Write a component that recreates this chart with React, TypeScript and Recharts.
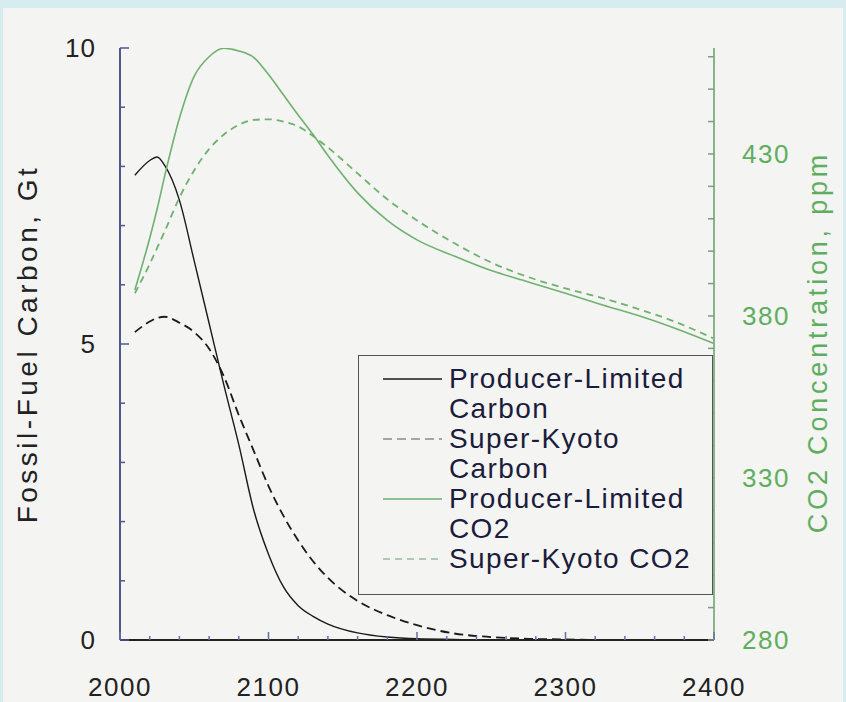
import React from 'react';
import { LineChart, Line, XAxis, YAxis, Legend } from 'recharts';

const years = [2010, 2020, 2025, 2030, 2040, 2050, 2060, 2070, 2080, 2090, 2100, 2110, 2120, 2130, 2140, 2160, 2180, 2200, 2225, 2250, 2275, 2300, 2325, 2350, 2375, 2400];
const producerCarbon = [7.85, 8.1, 8.16, 8.02, 7.43, 6.4, 5.35, 4.3, 3.3, 2.2, 1.45, 0.9, 0.58, 0.4, 0.27, 0.12, 0.05, 0.02, 0.01, 0, 0, 0, 0, 0, 0, 0];
const kyotoCarbon = [5.2, 5.38, 5.44, 5.46, 5.36, 5.2, 4.92, 4.45, 3.8, 3.2, 2.6, 2.1, 1.68, 1.33, 1.05, 0.66, 0.42, 0.25, 0.11, 0.05, 0.02, 0.01, 0, 0, 0, 0];
const producerCO2 = [388, 404, 413, 423, 441, 454, 460, 462.6, 461.8, 459.8, 454.5, 448.3, 442, 436, 429.5, 418, 409.5, 403.5, 398.5, 394, 390.5, 387, 383.4, 380, 376, 371.5];
const kyotoCO2 = [387, 396, 401, 406, 416.5, 425, 431.5, 436, 439, 440.5, 440.7, 440, 438.5, 435.5, 432, 424, 416, 409.5, 402.5, 396.5, 392, 388.5, 385.5, 382, 378, 373];

const seriesNames = ['Producer-Limited Carbon', 'Super-Kyoto Carbon', 'Producer-Limited CO2', 'Super-Kyoto CO2'];
const legendSampleColors = ['#1a1a1a', '#8a8a8a', '#6fb16f', '#9cb89c'];
const leftTitle = 'Fossil-Fuel Carbon, Gt';
const rightTitle = 'CO2 Concentration, ppm';

const xTicks = [2000, 2020, 2040, 2060, 2080, 2100, 2120, 2140, 2160, 2180, 2200, 2220, 2240, 2260, 2280, 2300, 2320, 2340, 2360, 2380, 2400];
const xLabelTicks = [2000, 2100, 2200, 2300, 2400];
const leftTicks = [0, 1, 2, 3, 4, 5, 6, 7, 8, 9, 10];
const leftLabelTicks = [0, 5, 10];
const rightTicks = [280, 290, 300, 310, 320, 330, 340, 350, 360, 370, 380, 390, 400, 410, 420, 430, 440, 450, 460];
const rightLabelTicks = [280, 330, 380, 430];

const data = years.map((year, i) => ({
  year,
  pc: producerCarbon[i],
  kc: kyotoCarbon[i],
  pco2: producerCO2[i],
  kco2: kyotoCO2[i],
}));

const FONT = '"Liberation Sans", Arial, sans-serif';
const GREEN = '#6fb16f';
const GREEN_TEXT = '#5fae5f';
const PAPER = '#f4f4f2';

const XTick = (props: any) => {
  const { x, y, payload } = props;
  const major = xLabelTicks.includes(payload.value);
  return (
    <g>
      <line x1={x} y1={y} x2={x} y2={y - (major ? 8 : 4)} stroke="#6670a0" strokeWidth={1.5} />
      {major && (
        <text x={x} y={y + 56} textAnchor="middle" fontFamily={FONT} fontSize={26} letterSpacing={1.5} fill="#222">
          {payload.value}
        </text>
      )}
    </g>
  );
};

const LeftTick = (props: any) => {
  const { x, y, payload } = props;
  const major = leftLabelTicks.includes(payload.value);
  return (
    <g>
      <line x1={x} y1={y} x2={x + (major ? 9 : 5)} y2={y} stroke="#4a5a8a" strokeWidth={1.5} />
      {major && (
        <text x={x - 24} y={y + 9} textAnchor="end" fontFamily={FONT} fontSize={26} letterSpacing={1} fill="#222">
          {payload.value}
        </text>
      )}
    </g>
  );
};

const RightTick = (props: any) => {
  const { x, y, payload } = props;
  const major = rightLabelTicks.includes(payload.value);
  return (
    <g>
      <line x1={x} y1={y} x2={x - 6} y2={y} stroke="#7aa07a" strokeWidth={1.5} />
      {major && (
        <text x={x + 28} y={y + 9} textAnchor="start" fontFamily={FONT} fontSize={26} letterSpacing={1.5} fill={GREEN_TEXT}>
          {payload.value}
        </text>
      )}
    </g>
  );
};

const LeftTitle = (props: any) => {
  const vb = props.viewBox;
  const cx = vb.x + 27;
  const cy = vb.y + vb.height / 2;
  return (
    <text x={cx} y={cy} dy="0.35em" transform={`rotate(-90, ${cx}, ${cy})`} textAnchor="middle" fontFamily={FONT} fontSize={28} letterSpacing={3.5} fill="#222">
      {leftTitle}
    </text>
  );
};

const RightTitle = (props: any) => {
  const vb = props.viewBox;
  const cx = vb.x + 104;
  const cy = vb.y + vb.height / 2 - 2;
  return (
    <text x={cx} y={cy} dy="0.35em" transform={`rotate(-90, ${cx}, ${cy})`} textAnchor="middle" fontFamily={FONT} fontSize={27} letterSpacing={3.8} fill={GREEN_TEXT}>
      {rightTitle}
    </text>
  );
};

const LegendBox = (props: any) => {
  const entries = [...(props.payload || [])].sort(
    (a: any, b: any) => seriesNames.indexOf(a.value) - seriesNames.indexOf(b.value)
  );
  return (
    <div
      style={{
        width: 355,
        height: 240,
        boxSizing: 'border-box',
        border: '1.5px solid #555',
        background: PAPER,
        padding: '8px 0 0 24px',
        fontFamily: FONT,
        fontSize: 28,
        letterSpacing: 1.4,
        color: '#1c1c3c',
      }}
    >
      {entries.map((entry: any, i: number) => (
        <div key={i} style={{ display: 'flex', alignItems: 'flex-start' }}>
          <svg width={66} height={30} style={{ flex: '0 0 auto' }}>
            <line
              x1={0}
              y1={15}
              x2={59}
              y2={15}
              stroke={legendSampleColors[seriesNames.indexOf(entry.value)] || entry.color}
              strokeWidth={1.5}
              strokeDasharray={entry.payload && entry.payload.strokeDasharray}
            />
          </svg>
          <div style={{ width: 260, lineHeight: '30px' }}>{entry.value}</div>
        </div>
      ))}
    </div>
  );
};

export default function App() {
  return (
    <div style={{ position: 'fixed', left: 0, top: 0, width: 846, height: 702, background: '#d6ecef' }}>
      <div style={{ position: 'absolute', left: 3, top: 8, right: 3, bottom: 0, background: PAPER }} />
      <div style={{ position: 'absolute', left: 0, top: 0 }}>
        <LineChart width={846} height={702} data={data} margin={{ top: 48, right: 0, bottom: 0, left: 0 }}>
          <XAxis
            dataKey="year"
            type="number"
            domain={[2000, 2400]}
            ticks={xTicks}
            interval={0}
            tick={<XTick />}
            tickLine={false}
            tickSize={0}
            tickMargin={0}
            height={62}
            axisLine={{ stroke: '#222', strokeWidth: 2 }}
          />
          <YAxis
            yAxisId="left"
            orientation="left"
            type="number"
            domain={[0, 10]}
            ticks={leftTicks}
            interval={0}
            tick={<LeftTick />}
            tickLine={false}
            tickSize={0}
            tickMargin={0}
            width={120}
            axisLine={{ stroke: '#4a5a8a', strokeWidth: 2 }}
            label={<LeftTitle />}
          />
          <YAxis
            yAxisId="right"
            orientation="right"
            type="number"
            domain={[280, 462.7]}
            allowDataOverflow
            ticks={rightTicks}
            interval={0}
            tick={<RightTick />}
            tickLine={false}
            tickSize={0}
            tickMargin={0}
            width={132}
            axisLine={{ stroke: '#8cb48c', strokeWidth: 2 }}
            label={<RightTitle />}
          />
          <Legend
            layout="vertical"
            align="center"
            verticalAlign="middle"
            content={<LegendBox />}
            wrapperStyle={{ left: 358, top: 355, width: 355, height: 240 }}
          />
          <Line yAxisId="left" type="monotone" dataKey="pc" name={seriesNames[0]} stroke="#1a1a1a" strokeWidth={1.4} dot={false} isAnimationActive={false} />
          <Line yAxisId="left" type="monotone" dataKey="kc" name={seriesNames[1]} stroke="#1a1a1a" strokeWidth={1.8} strokeDasharray="9 5" dot={false} isAnimationActive={false} />
          <Line yAxisId="right" type="monotone" dataKey="pco2" name={seriesNames[2]} stroke={GREEN} strokeWidth={1.6} dot={false} isAnimationActive={false} />
          <Line yAxisId="right" type="monotone" dataKey="kco2" name={seriesNames[3]} stroke={GREEN} strokeWidth={1.8} strokeDasharray="7 5" dot={false} isAnimationActive={false} />
        </LineChart>
      </div>
    </div>
  );
}
